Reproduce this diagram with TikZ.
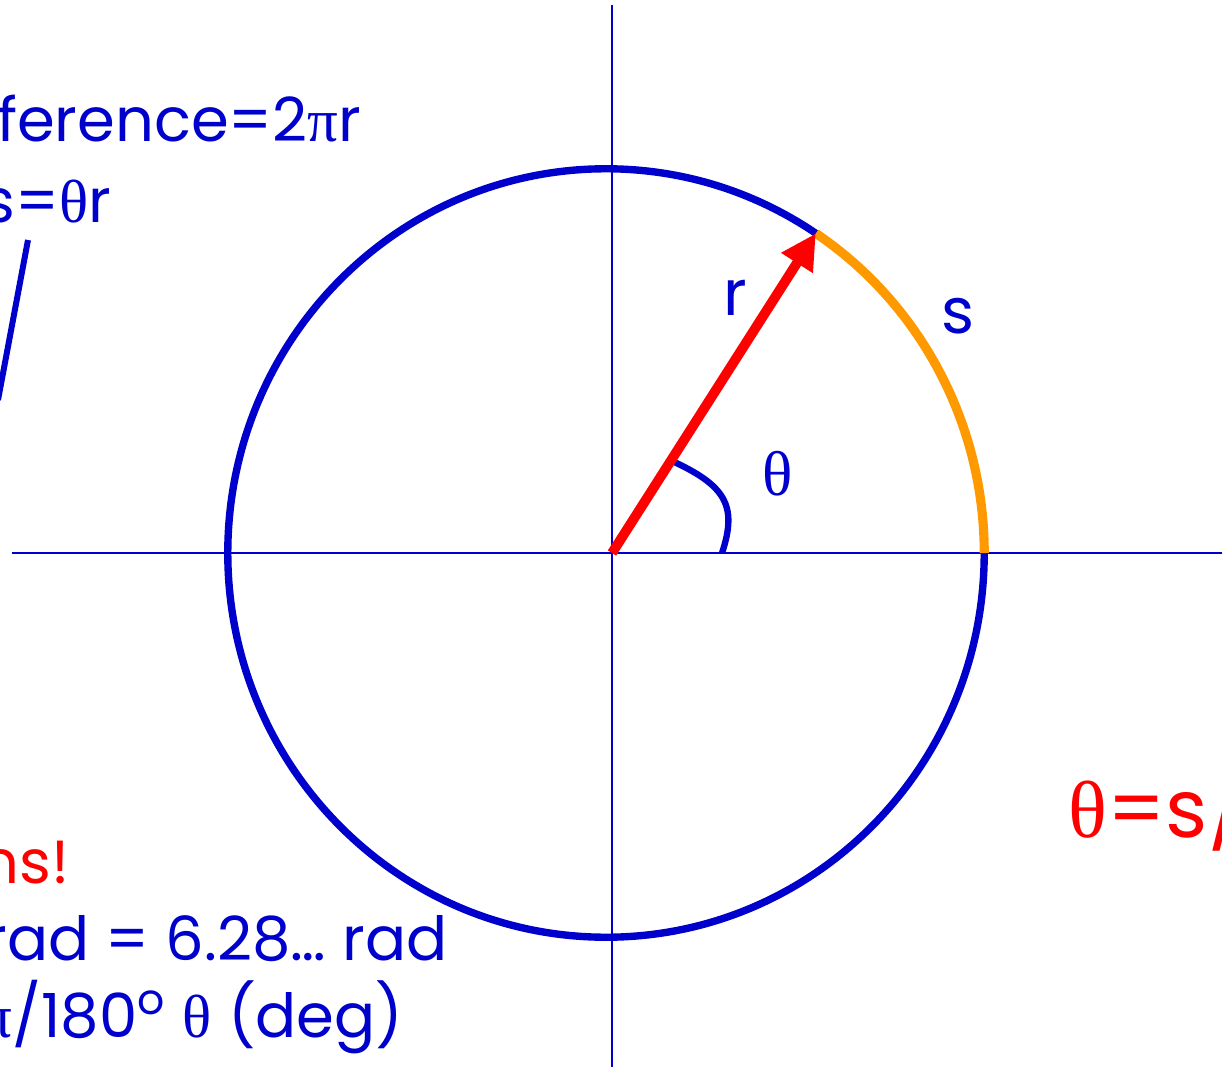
\documentclass[tikz,border=0pt]{standalone}
\usepackage{fontspec}
\setmainfont{Poppins}
\newfontfamily\grk{Liberation Serif}
\usepackage{tikz}
\usetikzlibrary{calc,arrows.meta}
\definecolor{cblue}{RGB}{0,0,204}
\definecolor{corange}{RGB}{255,153,0}

\begin{document}
\begin{tikzpicture}[x=0.01cm,y=-0.01cm,
				ax/.style={draw=cblue,line width=0.75pt},
				circ/.style={draw=cblue,line width=2.1pt},
				radv/.style={draw=red,line width=2.8pt,
					-{Triangle[length=10pt,width=10pt]}},
				arcs/.style={draw=corange,line width=2.6pt},
				ang/.style={draw=cblue,line width=1.8pt},
				lbl/.style={text=cblue,font=\fontsize{17.3}{20}\selectfont,inner sep=0pt},
				big/.style={text=red,font=\fontsize{23}{26}\selectfont,inner sep=0pt}]

				\useasboundingbox (0,0) rectangle (1222,1067);

				%%%%%%%%%%%%%%%%  axes and circle  %%%%%%%%%%%%%%%%
				\coordinate (O) at (606,553);
				\coordinate (P) at ($(O)+(56.3:3.78cm and 3.84cm)$);
				\coordinate (xl) at (12,553);   \coordinate (xr) at (1222,553);
				\coordinate (yt) at (612,5);    \coordinate (yb) at (612,1067);
				\draw[ax] (xl) -- (xr);
				\draw[ax] (yt) -- (yb);
				\draw[circ] (O) ellipse [x radius=3.78cm, y radius=3.84cm];
				% the arc s
				\draw[arcs] (P) arc[start angle=56.3, end angle=0,
					x radius=3.78cm, y radius=3.84cm];
				% the angle theta
				\coordinate (a0) at (670,460);  \coordinate (a1) at (722,553);
				\draw[ang] (a0) .. controls (725,485) and (738,505) .. (a1);
				% the radius r
				\coordinate (c) at (612,553);
				\draw[radv] (c) -- (P);
				\node[lbl,font=\fontsize{18}{20}\selectfont] (rlab) at (735,298) {r};
				\node[lbl,font=\fontsize{18}{20}\selectfont] (slab) at (958,316) {s};
				\node[lbl,font=\fontsize{18}{20}\selectfont] (tlab) at (778,474) {\grk θ};

				%%%%%%%%%%%%%%%%  text on the left  %%%%%%%%%%%%%%%%
				\node[lbl,anchor=base east] (circum) at (362,142) {ference=2{\grk π}r};
				\node[lbl,anchor=base east] (arclen) at (112,223) {s={\grk θ}r};
				\coordinate (l0) at (28,240);  \coordinate (l1) at (-2,400);
				\draw[cblue,line width=1.7pt] (l0) -- (l1);
				\node[lbl,anchor=base east,text=red] (rads) at (70,883) {ns!};
				\node[lbl,anchor=base east] (full) at (448,960) {rad = 6.28… rad};
				\node[lbl,anchor=base east] (conv) at (404,1037)
					{{\grk π}/180\textsuperscript{o} {\grk θ} (deg)};

				%%%%%%%%%%%%%%%%  text on the right  %%%%%%%%%%%%%%%%
				\node[big,anchor=base west] (def) at (1068,837) {{\grk θ}=s/};
\end{tikzpicture}
\end{document}
